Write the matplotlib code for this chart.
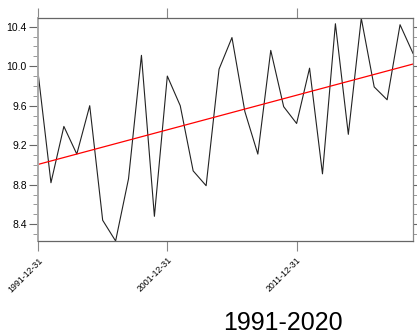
import matplotlib.pyplot as plt
import matplotlib.dates as mdates
from matplotlib.ticker import MultipleLocator
import numpy as np
import pandas as pd

plt.rcParams['font.family'] = ['Liberation Sans', 'DejaVu Sans']

# annual values, 1991-2020
years = list(range(1991, 2021))
values = [9.94, 8.82, 9.39, 9.11, 9.60, 8.44, 8.23, 8.86, 10.11, 8.48,
          9.90, 9.60, 8.94, 8.79, 9.97, 10.29, 9.54, 9.11, 10.16, 9.59,
          9.42, 9.98, 8.91, 10.43, 9.31, 10.485, 9.79, 9.66, 10.42, 10.13]
xtick_years = [1991, 2001, 2011]
title = "1991-2020"

dates = pd.to_datetime([f"{y}-12-31" for y in years])
xnum = mdates.date2num(dates)

# linear trend
coef = np.polyfit(xnum, values, 1)
trend = np.polyval(coef, xnum)

fig = plt.figure(figsize=(4.17, 3.34), dpi=100)
ax = fig.add_axes([38/417, 1-241/334, 375/417, (241-18.3)/334])

ax.plot(dates, values, color='#222222', lw=0.8)
ax.plot(dates, trend, color='red', lw=0.9)

ax.set_xlim(dates[0], dates[-1])
ax.set_ylim(min(values), max(values))

ax.set_xticks(pd.to_datetime([f"{y}-12-31" for y in xtick_years]))
ax.xaxis.set_major_formatter(mdates.DateFormatter('%Y-%m-%d'))
ax.yaxis.set_major_locator(MultipleLocator(0.4))
ax.yaxis.set_minor_locator(MultipleLocator(0.1))
ax.yaxis.set_major_formatter(plt.FormatStrFormatter('%.1f'))

for s in ax.spines.values():
    s.set_color('#666666')
    s.set_linewidth(0.9)
ax.spines['left'].set_color('#aaaaaa')
ax.spines['left'].set_linewidth(1.4)
ax.spines['right'].set_color('#888888')

ax.tick_params(axis='x', which='major', direction='out', length=7.5, width=0.8,
               color='#888888', top=True, bottom=True, labelsize=6.3, pad=3)
ax.tick_params(axis='y', which='major', direction='out', length=6.5, width=0.8,
               color='#666666', left=True, right=True, labelsize=7.5, pad=1.5)
ax.tick_params(axis='y', which='minor', direction='out', length=3.5, width=0.6,
               color='#888888', left=True, right=True)
ax.tick_params(axis='x', which='minor', bottom=False, top=False)
for lab in ax.get_xticklabels():
    lab.set_rotation(45)
    lab.set_ha('right')
    lab.set_rotation_mode('anchor')

fig.text(283/417, 1-323/334, title, fontsize=18, ha='center', va='center')

fig.savefig('out.png', dpi=100)
